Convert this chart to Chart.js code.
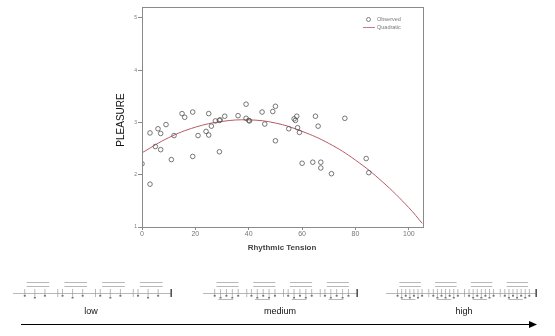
<!DOCTYPE html>
<html>
<head>
<meta charset="utf-8">
<script src="https://cdn.jsdelivr.net/npm/chart.js@4"></script>
<style>
  html, body { margin: 0; padding: 0; background: #fff; }
  #wrap { width: 555px; height: 336px; position: relative; }
</style>
</head>
<body>
<div id="wrap"><canvas id="grafico"></canvas></div>
<script>
// observed points (Rhythmic Tension, Pleasure)
const tensionObs = [0, 3, 3, 5, 6, 7, 7, 9, 11, 12, 15, 16, 19, 19, 21, 24, 25, 25, 26, 27.5, 29, 29.3, 29, 31, 36, 39, 39, 40, 40.3, 45, 46, 49, 50, 50, 55, 57, 57.5, 58, 58.3, 59, 60, 64, 65, 66, 67, 67, 71, 76, 84, 85];
const pleasureObs = [2.21, 1.82, 2.8, 2.54, 2.88, 2.79, 2.48, 2.96, 2.29, 2.75, 3.17, 3.1, 3.2, 2.35, 2.75, 2.83, 3.17, 2.76, 2.93, 3.03, 3.04, 3.05, 2.44, 3.12, 3.13, 3.35, 3.08, 3.04, 3.03, 3.2, 2.97, 3.21, 3.31, 2.65, 2.88, 3.07, 3.04, 3.12, 2.9, 2.81, 2.22, 2.24, 3.12, 2.93, 2.24, 2.13, 2.02, 3.08, 2.31, 2.04];

// quadratic fit line
const tensionFit = [0, 10, 20, 30, 40, 50, 60, 70, 80, 90, 100, 105];
const pleasureFit = [2.42, 2.71, 2.91, 3.02, 3.05, 2.99, 2.83, 2.6, 2.28, 1.87, 1.37, 1.07];

const xTicks = [0, 20, 40, 60, 80, 100];
const yTicks = [1, 2, 3, 4, 5];
const tensionLabels = ['low', 'medium', 'high'];

const canvas = document.getElementById('grafico');

// frame, legend, titles and the bottom strip
const extras = {
    id: 'extras',
    afterDraw(chart) {
        const ctx = chart.ctx;
        const a = chart.chartArea;
        ctx.save();
        ctx.strokeStyle = '#8a8a8a';
        ctx.lineWidth = 1;
        ctx.strokeRect(a.left + 0.5, a.top + 0.5, a.right - a.left, a.bottom - a.top);

        // legend
        ctx.fillStyle = '#777';
        ctx.font = '5.5px "Liberation Sans", Arial, sans-serif';
        ctx.textBaseline = 'middle';
        ctx.beginPath();
        ctx.strokeStyle = '#666';
        ctx.lineWidth = 0.8;
        ctx.arc(368.5, 19.5, 2, 0, Math.PI * 2);
        ctx.stroke();
        ctx.fillText('Observed', 377, 19.5);
        ctx.beginPath();
        ctx.strokeStyle = '#b85a64';
        ctx.moveTo(363, 27.5);
        ctx.lineTo(375, 27.5);
        ctx.stroke();
        ctx.fillText('Quadratic', 377, 27.5);

        // axis titles
        ctx.fillStyle = '#111';
        ctx.font = '10px "Liberation Sans", Arial, sans-serif';
        ctx.textAlign = 'center';
        ctx.save();
        ctx.translate(121, 120);
        ctx.rotate(-Math.PI / 2);
        ctx.fillText('PLEASURE', 0, 0);
        ctx.restore();
        ctx.fillStyle = '#444';
        ctx.font = 'bold 8px "Liberation Sans", Arial, sans-serif';
        ctx.fillText('Rhythmic Tension', 282, 248);

        // rhythm notation (sketch)
        const groups = [[13, 172], [203, 358], [386, 537]];
        ctx.strokeStyle = '#999';
        ctx.lineWidth = 0.7;
        groups.forEach(([x0, x1], g) => {
            ctx.beginPath();
            ctx.moveTo(x0, 293.5); ctx.lineTo(x1, 293.5);
            ctx.stroke();
            const w = (x1 - x0 - 8) / 4;
            for (let m = 0; m < 4; m++) {
                const mx = x0 + 8 + m * w;
                ctx.beginPath();
                ctx.moveTo(mx + w * 0.15, 282.5); ctx.lineTo(mx + w * 0.75, 282.5);
                ctx.moveTo(mx + w * 0.15, 286.5); ctx.lineTo(mx + w * 0.75, 286.5);
                ctx.stroke();
                const n = 3 + g * 2;
                for (let k = 0; k < n; k++) {
                    const nx = mx + w * 0.1 + k * (w * 0.8 / n);
                    ctx.beginPath();
                    ctx.moveTo(nx, 289); ctx.lineTo(nx, 297);
                    ctx.stroke();
                    ctx.fillStyle = '#777';
                    ctx.fillRect(nx - 1, 295 + (k % 2) * 2, 2, 1.5);
                }
                if (g > 0) {
                    ctx.beginPath();
                    ctx.moveTo(mx + w * 0.2, 299.5); ctx.lineTo(mx + w * 0.6, 299.5);
                    ctx.stroke();
                }
                ctx.beginPath();
                ctx.moveTo(mx + w - 1, 289); ctx.lineTo(mx + w - 1, 297);
                ctx.stroke();
            }
            ctx.fillStyle = '#555';
            ctx.fillRect(x1 - 1.5, 289, 1.5, 8);
        });

        // low / medium / high and arrow
        ctx.fillStyle = '#111';
        ctx.font = '9px "Liberation Sans", Arial, sans-serif';
        ctx.textAlign = 'center';
        const labelX = [91, 280, 464];
        tensionLabels.forEach((t, i) => ctx.fillText(t, labelX[i], 312));
        ctx.strokeStyle = '#000';
        ctx.lineWidth = 1.2;
        ctx.beginPath();
        ctx.moveTo(21, 324.5); ctx.lineTo(533, 324.5);
        ctx.stroke();
        ctx.beginPath();
        ctx.moveTo(537, 324.5); ctx.lineTo(529, 321); ctx.lineTo(529, 328);
        ctx.closePath();
        ctx.fillStyle = '#000';
        ctx.fill();
        ctx.restore();
    }
};

new Chart(canvas, {
    type: 'scatter',
    data: {
        datasets: [{
            label: 'Observed',
            data: tensionObs.map((x, i) => ({ x: x, y: pleasureObs[i] })),
            pointStyle: 'circle',
            pointRadius: 2.3,
            borderColor: '#555',
            borderWidth: 0.8,
            backgroundColor: 'rgba(0,0,0,0)'
        }, {
            type: 'line',
            label: 'Quadratic',
            data: tensionFit.map((x, i) => ({ x: x, y: pleasureFit[i] })),
            borderColor: '#b85a64',
            borderWidth: 1,
            pointRadius: 0,
            tension: 0.4,
            fill: false
        }]
    },
    options: {
        responsive: true,
        maintainAspectRatio: false,
        animation: false,
        events: [],
        layout: { padding: { left: 0, right: 132, top: 7, bottom: 79 } },
        scales: {
            x: {
                type: 'linear',
                min: 0,
                max: 105.3,
                afterBuildTicks: s => { s.ticks = xTicks.map(v => ({ value: v })); },
                afterFit: s => { s.height = 30; },
                grid: { drawOnChartArea: false, tickLength: 3, color: '#8a8a8a' },
                border: { color: '#8a8a8a' },
                ticks: { color: '#777', padding: 0, font: { size: 7, family: '"Liberation Sans", Arial' } }
            },
            y: {
                min: 1,
                max: 5.21,
                afterBuildTicks: s => { s.ticks = yTicks.map(v => ({ value: v })); },
                afterFit: s => { s.width = 142; },
                grid: { drawOnChartArea: false, tickLength: 4, color: '#8a8a8a' },
                border: { color: '#8a8a8a' },
                ticks: { color: '#777', padding: 1, font: { size: 5, family: '"Liberation Sans", Arial' } }
            }
        },
        plugins: {
            legend: { display: false },
            tooltip: { enabled: false }
        }
    },
    plugins: [extras]
});
</script>
</body>
</html>
